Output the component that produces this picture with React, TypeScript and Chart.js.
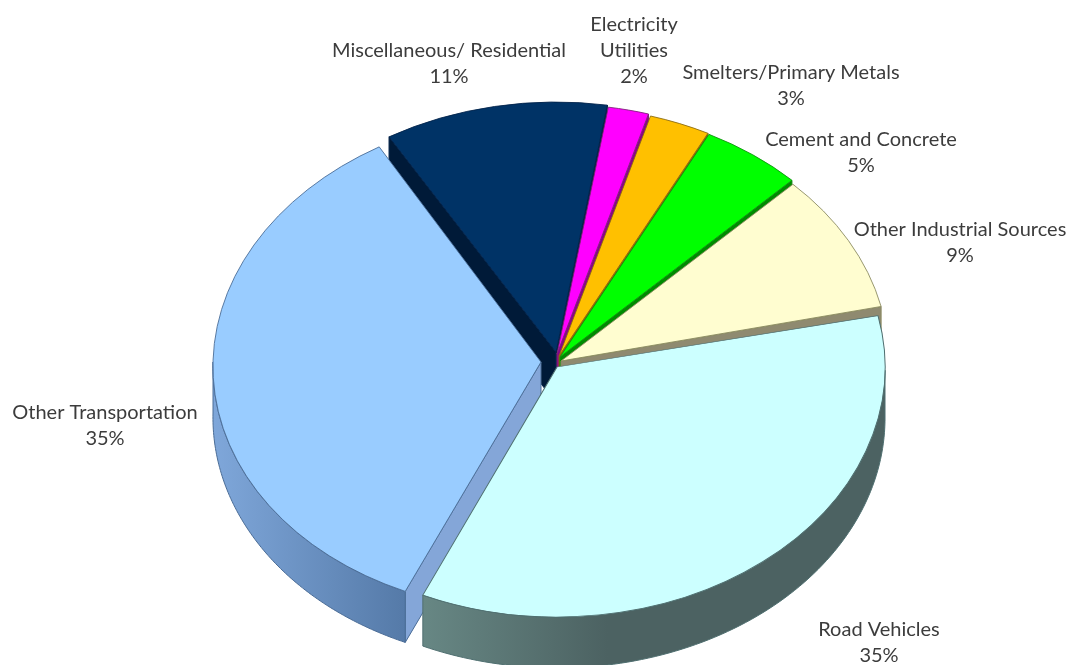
import React, { useEffect, useRef } from "react";
import { Chart, registerables } from "chart.js";

Chart.register(...registerables);

// Emission shares by source, clockwise from the Miscellaneous slice.
const categories = [
  "Miscellaneous/ Residential",
  "Electricity\nUtilities",
  "Smelters/Primary Metals",
  "Cement and Concrete",
  "Other Industrial Sources",
  "Road Vehicles",
  "Other Transportation",
];
const shares = [11, 2, 3, 5, 9, 35, 35];

// Slice styling.
const topColors = ["#003366", "#ff00ff", "#ffc000", "#00ff00", "#fffdd0", "#ccffff", "#99ccff"];
const rimLight = ["#001a38", "#8a008a", "#8a6800", "#008a00", "#8a8a70", "#678784", "#7fa7da"];
const rimDark = ["#001a38", "#8a008a", "#8a6800", "#008a00", "#8a8a70", "#4c6262", "#557aa8"];
const faceColors = ["#001a38", "#8a008a", "#8a6800", "#008a00", "#8f8a70", "#6f8f8b", "#84a6d8"];
const borderColors = ["#00224a", "#80207a", "#8a6a10", "#109010", "#8a8a60", "#4f6f70", "#4a6c96"];

// How far each slice is pulled away from the pie's centre, in pixels.
const pullX = [-1, 0, 2, 3, 4, 0, -16];
const pullY = [-10, -8, -6, -5, -1, 5, 0];

// Slight per-slice skew standing in for the camera's perspective.
const skewX = [0, 0, 0, 0, 0, -0.017, -0.024];
const skewY = [0, 0, 0, 0, 0, 0.01, 0];

// Label centres, in canvas pixels (middle of the first line).
const labelX = [449, 634, 791, 861, 960, 879, 105];
const labelY = [50.5, 24.5, 72.5, 139.5, 229.5, 629.5, 412.5];

// Back-to-front painting order.
const paintOrder = [0, 1, 2, 3, 4, 6, 5];

const TILT = 0.762;
const DEPTH = 51;
const RADIUS = 328;
const LINE_HEIGHT = 26;

const tiltedPie = {
  id: "tiltedPie",
  beforeDatasetDraw(chart: any) {
    const ctx: CanvasRenderingContext2D = chart.ctx;
    const arcs = chart.getDatasetMeta(0).data;
    for (const i of paintOrder) {
      const arc = arcs[i];
      const { x, y, startAngle, endAngle, outerRadius } = arc.getProps(
        ["x", "y", "startAngle", "endAngle", "outerRadius"],
        true
      );
      const cx = x + pullX[i];
      const cy = y + pullY[i];
      const rimAt = (a: number): [number, number] => {
        const u = outerRadius * Math.cos(a);
        const v = TILT * outerRadius * Math.sin(a);
        return [cx + u + skewX[i] * v, cy + v + skewY[i] * u];
      };

      // Radial cut faces that turn towards the viewer.
      const face = (a: number) => {
        const [px, py] = rimAt(a);
        ctx.beginPath();
        ctx.moveTo(cx, cy);
        ctx.lineTo(px, py);
        ctx.lineTo(px, py + DEPTH);
        ctx.lineTo(cx, cy + DEPTH);
        ctx.closePath();
        ctx.fillStyle = faceColors[i];
        ctx.fill();
        ctx.strokeStyle = borderColors[i];
        ctx.lineWidth = 1;
        ctx.stroke();
      };
      if (Math.cos(startAngle) < 0) face(startAngle);
      if (Math.cos(endAngle) > 0) face(endAngle);

      // Outer wall: only the part of the rim on the near half of the ellipse.
      const from = Math.max(startAngle, 0);
      const to = Math.min(endAngle, Math.PI);
      if (to > from) {
        const [lx] = rimAt(to);
        const [rx] = rimAt(from);
        const fill = ctx.createLinearGradient(Math.min(lx, rx), 0, Math.max(lx, rx), 0);
        fill.addColorStop(0, rimLight[i]);
        fill.addColorStop(i === 5 ? 0.4 : 1, rimDark[i]);
        fill.addColorStop(1, rimDark[i]);
        const steps = 90;
        ctx.beginPath();
        for (let s = 0; s <= steps; s++) {
          const [px, py] = rimAt(from + ((to - from) * s) / steps);
          if (s === 0) ctx.moveTo(px, py);
          else ctx.lineTo(px, py);
        }
        for (let s = steps; s >= 0; s--) {
          const [px, py] = rimAt(from + ((to - from) * s) / steps);
          ctx.lineTo(px, py + DEPTH);
        }
        ctx.closePath();
        ctx.fillStyle = fill;
        ctx.fill();
        ctx.strokeStyle = borderColors[i];
        ctx.lineWidth = 1;
        ctx.stroke();
      }

      // Top of the slice: the library's own arc, squashed into the tilt plane.
      ctx.save();
      ctx.translate(cx, cy);
      ctx.transform(1, skewY[i], skewX[i], 1, 0, 0);
      ctx.scale(1, TILT);
      ctx.translate(-x, -y);
      arc.draw(ctx);
      ctx.restore();
    }
    return false;
  },
  afterDraw(chart: any) {
    const ctx: CanvasRenderingContext2D = chart.ctx;
    ctx.save();
    ctx.font = '20px Lato, "Open Sans", sans-serif';
    ctx.fillStyle = "#3c3c3c";
    ctx.textAlign = "center";
    ctx.textBaseline = "middle";
    categories.forEach((name, i) => {
      const lines = [...name.split("\n"), `${shares[i]}%`];
      lines.forEach((line, n) => ctx.fillText(line, labelX[i], labelY[i] + n * LINE_HEIGHT));
    });
    ctx.restore();
  },
};

export default function App() {
  const ref = useRef<HTMLCanvasElement>(null);
  useEffect(() => {
    document.body.style.margin = "0";
    document.body.style.background = "#ffffff";
    const chart = new Chart(ref.current!, {
      type: "pie",
      data: {
        labels: categories,
        datasets: [
          {
            data: shares,
            backgroundColor: topColors,
            borderColor: borderColors,
            borderWidth: 1,
          },
        ],
      },
      options: {
        responsive: false,
        animation: false,
        rotation: -30.6,
        radius: RADIUS,
        layout: { padding: { left: 45, top: 59, right: 0, bottom: 0 } },
        plugins: { legend: { display: false }, tooltip: { enabled: false } },
      },
      plugins: [tiltedPie],
    } as any);
    return () => chart.destroy();
  }, []);
  return <canvas ref={ref} width={1069} height={665} style={{ display: "block" }} />;
}
